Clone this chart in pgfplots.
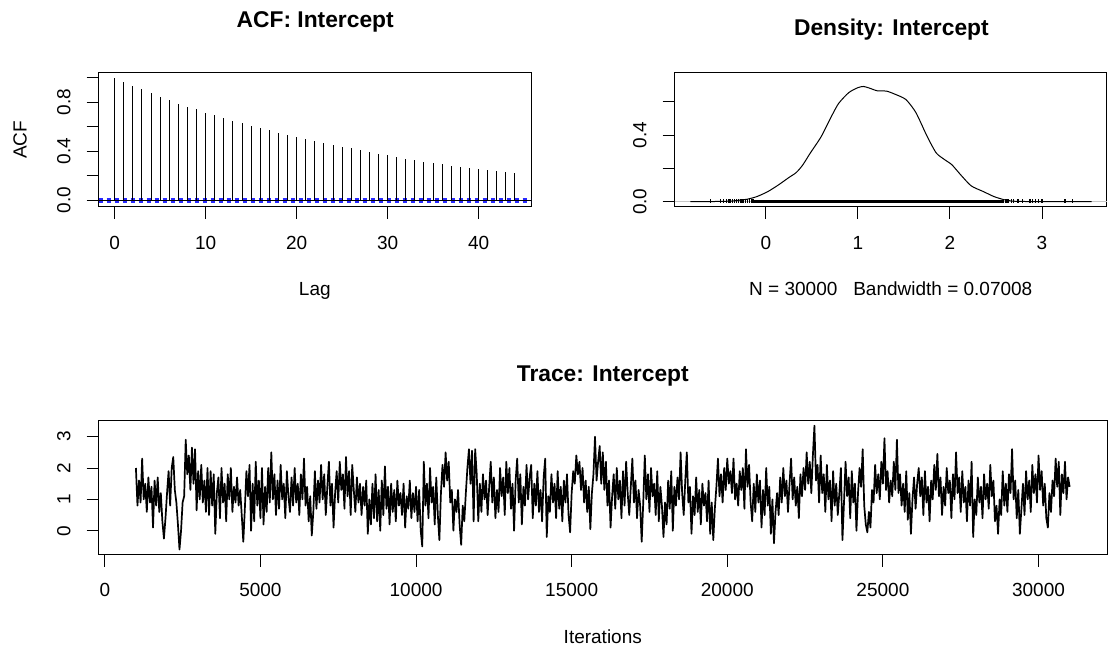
\documentclass[border=0pt]{standalone}
\usepackage{pgfplots}
\pgfplotsset{compat=1.18}
\usepackage{fontspec}
\setmainfont{Liberation Sans}
\definecolor{acfblue}{RGB}{40,40,255}
\newcommand{\lbl}{\fontsize{9.5}{11}\selectfont}
\newcommand{\ttl}{\fontsize{11.4}{13}\selectfont\bfseries}
\pgfplotsset{
  rbase/.style={
    scale only axis,
    anchor=south west,
    enlargelimits=false,
    axis line style={black, line width=0.5pt},
    tick align=outside,
    major tick length=6pt,
    tick style={black, line width=0.5pt},
    xtick pos=left, ytick pos=left,
    scaled x ticks=false, scaled y ticks=false,
    tick label style={font=\lbl},
    xticklabel style={anchor=base, yshift=-15.2pt},
    yticklabel style={xshift=-8.1pt, rotate=90, anchor=base},
    label style={font=\lbl},
    xlabel style={at={(axis description cs:0.5,0)}, anchor=base, yshift=-44.3pt},
    clip=true,
  }
}
\begin{document}
\begin{tikzpicture}
\useasboundingbox (0,0) rectangle (555pt,325pt);
% ---------------- ACF ----------------
\begin{axis}[rbase,
  at={(49.3pt,221.7pt)}, width=216.2pt, height=66.9pt,
  xmin=-1.76, xmax=45.76, ymin=-0.0517, ymax=1.0405,
  xtick={0,10,20,30,40}, xticklabels={0,10,20,30,40},
  ytick={0,0.2,0.4,0.6,0.8,1}, yticklabels={0.0,,0.4,,0.8,},
  xlabel={Lag}, ylabel={ACF},
  ylabel style={at={(axis description cs:-0.1665,0.5)}, anchor=base, rotate=0},
]
\addplot[black, line width=0.5pt] coordinates {(-1.76,0) (45.76,0)};
\addplot[acfblue, line width=0.9pt, dash pattern=on 2pt off 2pt] coordinates {(-1.76,0.0113) (45.76,0.0113)};
\addplot[acfblue, line width=0.9pt, dash pattern=on 2pt off 2pt] coordinates {(-1.76,-0.0113) (45.76,-0.0113)};
\addplot[ycomb, black, line width=0.5pt, mark=none] coordinates {
(0,1.000) (1,0.969) (2,0.936) (3,0.906) (4,0.873) (5,0.846) (6,0.819) (7,0.789) (8,0.765) (9,0.743)
(10,0.716) (11,0.694) (12,0.669) (13,0.648) (14,0.629) (15,0.607) (16,0.588) (17,0.571) (18,0.552) (19,0.533)
(20,0.517) (21,0.501) (22,0.484) (23,0.468) (24,0.452) (25,0.438) (26,0.424) (27,0.411) (28,0.395) (29,0.381)
(30,0.367) (31,0.354) (32,0.340) (33,0.327) (34,0.313) (35,0.305) (36,0.294) (37,0.283) (38,0.272) (39,0.264)
(40,0.256) (41,0.245) (42,0.237) (43,0.229) (44,0.220)};
\end{axis}
% ---------------- Density ----------------
\begin{axis}[rbase,
  at={(337.3pt,221.7pt)}, width=216.2pt, height=66.9pt,
  xmin=-0.992, xmax=3.706, ymin=-0.0298, ymax=0.774,
  xtick={0,1,2,3}, xticklabels={0,1,2,3},
  ytick={0,0.2,0.4,0.6}, yticklabels={0.0,,0.4,},
  xlabel={N = 30000~~~Bandwidth = 0.07008},
]
\addplot[gray!45, line width=0.4pt] coordinates {(-0.992,0) (3.706,0)};
\addplot[black, line width=0.5pt, smooth, tension=0.4] coordinates {
(-0.82,0) (-0.6,0.0005) (-0.45,0.002) (-0.365,0.004) (-0.21,0.014) (-0.1,0.03) (0.02,0.06) (0.135,0.10)
(0.25,0.145) (0.33,0.175) (0.40,0.22) (0.48,0.29) (0.60,0.39) (0.71,0.51) (0.79,0.59) (0.90,0.655)
(1.0,0.685) (1.06,0.692) (1.12,0.683) (1.21,0.666) (1.31,0.664) (1.40,0.646) (1.52,0.614) (1.63,0.535)
(1.75,0.394) (1.85,0.293) (1.94,0.253) (2.02,0.222) (2.115,0.162) (2.23,0.095) (2.365,0.06) (2.48,0.03)
(2.60,0.01) (2.71,0.002) (2.9,0.0005) (3.2,0.0002) (3.54,0)};
\addplot[black, line width=1.8pt] coordinates {(-0.13,0.002) (2.59,0.002)};
\addplot[black, only marks, mark=|, mark size=0.95pt, mark options={line width=0.6pt}] coordinates {
(-0.60,0.002) (-0.49,0.002) (-0.46,0.002) (-0.43,0.002) (-0.41,0.002) (-0.39,0.002) (-0.36,0.002)
(-0.34,0.002) (-0.32,0.002) (-0.30,0.002) (-0.28,0.002) (-0.26,0.002) (-0.24,0.002) (-0.22,0.002)
(-0.20,0.002) (-0.18,0.002) (-0.16,0.002) (-0.14,0.002)
(2.60,0.002) (2.62,0.002) (2.64,0.002) (2.67,0.002) (2.69,0.002) (2.74,0.002) (2.79,0.002)
(2.87,0.002) (2.90,0.002) (2.93,0.002) (2.96,0.002) (3.00,0.002) (3.25,0.002) (3.33,0.002)};
\end{axis}
% ---------------- Trace ----------------
\begin{axis}[rbase,
  at={(49.3pt,47.75pt)}, width=504.2pt, height=66.9pt,
  xmin=-199, xmax=32200, ymin=-0.758, ymax=3.508,
  xtick={0,5000,10000,15000,20000,25000,30000},
  xticklabels={0,5000,10000,15000,20000,25000,30000},
  ytick={0,1,2,3}, yticklabels={0,1,2,3},
  xlabel={Iterations},
]
\addplot[black, line width=0.85pt, line join=round] coordinates {
(1000,2.0) (1050,0.8) (1100,1.6) (1150,0.9) (1200,2.3) (1250,1.0) (1300,1.5) (1350,0.6) (1400,1.7) (1450,0.9)
(1500,1.4) (1550,0.1) (1600,1.6) (1650,0.8) (1700,1.7) (1750,0.6) (1800,1.2) (1850,0.3) (1900,-0.25) (1950,0.4)
(2000,1.2) (2050,1.9) (2100,0.8) (2150,2.0) (2200,2.35) (2250,1.3) (2300,0.9) (2350,0.2) (2400,-0.6) (2450,0.0)
(2500,0.9) (2550,1.1) (2600,2.9) (2650,1.8) (2700,2.4) (2750,1.3) (2800,2.65) (2850,1.5) (2900,2.6) (2950,0.65)
(3000,1.9) (3050,1.0) (3100,2.1) (3150,0.9) (3200,1.6) (3250,0.6) (3300,2.0) (3350,0.5) (3400,1.9) (3450,0.8)
(3500,1.8) (3550,-0.1) (3600,1.2) (3650,1.7) (3700,0.4) (3750,2.0) (3800,0.9) (3850,1.5) (3900,0.3) (3950,1.8)
(4000,1.0) (4050,2.0) (4100,0.6) (4150,1.4) (4200,0.9) (4250,1.7) (4300,0.8) (4350,1.3) (4400,0.5) (4450,-0.35)
(4500,0.7) (4550,1.9) (4600,1.1) (4650,2.1) (4700,0.0) (4750,1.5) (4800,0.3) (4850,2.2) (4900,0.8) (4950,1.6)
(5000,0.4) (5050,2.0) (5100,0.2) (5150,1.4) (5200,0.6) (5250,2.0) (5300,0.9) (5350,2.5) (5400,1.0) (5450,1.8)
(5500,0.5) (5550,1.6) (5600,0.7) (5650,2.1) (5700,1.0) (5750,1.5) (5800,0.4) (5850,1.9) (5900,1.1) (5950,0.6)
(6000,1.7) (6050,0.8) (6100,2.0) (6150,0.9) (6200,1.5) (6250,0.5) (6300,1.8) (6350,1.0) (6400,2.3) (6450,0.8)
(6500,1.4) (6550,0.3) (6600,1.1) (6650,-0.15) (6700,0.6) (6750,1.9) (6800,0.7) (6850,1.6) (6900,0.9) (6950,2.1)
(7000,1.0) (7050,1.8) (7100,0.5) (7150,1.4) (7200,2.2) (7250,0.8) (7300,1.5) (7350,0.1) (7400,1.2) (7450,1.9)
(7500,0.9) (7550,2.2) (7600,1.3) (7650,1.8) (7700,0.7) (7750,2.35) (7800,1.1) (7850,1.9) (7900,0.5) (7950,2.1)
(8000,1.3) (8050,0.6) (8100,1.7) (8150,0.9) (8200,1.5) (8250,0.5) (8300,1.4) (8350,0.8) (8400,1.6) (8450,-0.1)
(8500,1.0) (8550,0.2) (8600,1.5) (8650,0.4) (8700,1.8) (8750,0.3) (8800,1.3) (8850,0.0) (8900,1.6) (8950,0.5)
(9000,2.05) (9050,0.7) (9100,1.4) (9150,0.2) (9200,1.5) (9250,0.6) (9300,1.3) (9350,0.3) (9400,1.6) (9450,0.8)
(9500,1.2) (9550,0.5) (9600,1.5) (9650,0.1) (9700,1.1) (9750,0.7) (9800,1.6) (9850,0.4) (9900,1.2) (9950,0.6)
(10000,1.4) (10050,0.3) (10100,1.3) (10150,0.0) (10200,-0.5) (10250,2.2) (10300,0.8) (10350,1.5) (10400,0.4) (10450,2.0)
(10500,0.9) (10550,1.4) (10600,0.2) (10650,1.7) (10700,0.5) (10750,-0.3) (10800,1.2) (10850,2.1) (10900,1.4) (10950,2.5)
(11000,1.6) (11050,2.2) (11100,0.9) (11150,1.3) (11200,0.0) (11250,1.0) (11300,0.6) (11350,1.3) (11400,0.2) (11450,-0.45)
(11500,0.8) (11550,0.3) (11600,1.2) (11650,2.0) (11700,2.6) (11750,1.5) (11800,2.55) (11850,0.3) (11900,2.6) (11950,1.8)
(12000,0.3) (12050,1.5) (12100,0.6) (12150,1.8) (12200,1.0) (12250,1.6) (12300,0.5) (12350,1.4) (12400,2.2) (12450,0.9)
(12500,1.7) (12550,0.4) (12600,1.3) (12650,0.6) (12700,2.0) (12750,1.1) (12800,1.7) (12850,0.5) (12900,2.2) (12950,1.2)
(13000,2.0) (13050,0.7) (13100,1.5) (13150,0.0) (13200,1.6) (13250,2.3) (13300,0.9) (13350,1.8) (13400,0.2) (13450,1.4)
(13500,0.8) (13550,2.1) (13600,1.0) (13650,1.7) (13700,2.1) (13750,0.4) (13800,1.5) (13850,0.8) (13900,1.9) (13950,0.6)
(14000,1.3) (14050,0.3) (14100,1.7) (14150,2.3) (14200,-0.2) (14250,1.1) (14300,0.6) (14350,1.8) (14400,0.9) (14450,1.5)
(14500,0.4) (14550,1.9) (14600,0.7) (14650,1.4) (14700,0.3) (14750,1.6) (14800,0.9) (14850,1.8) (14900,0.5) (14950,-0.05)
(15000,1.2) (15050,1.9) (15100,1.5) (15150,2.4) (15200,1.8) (15250,2.2) (15300,1.3) (15350,2.0) (15400,0.9) (15450,1.6)
(15500,0.6) (15550,1.4) (15600,0.05) (15650,1.2) (15700,1.8) (15750,3.0) (15800,1.6) (15850,2.2) (15900,2.7) (15950,1.5)
(16000,2.5) (16050,1.3) (16100,2.2) (16150,0.8) (16200,1.6) (16250,0.1) (16300,1.1) (16350,1.8) (16400,0.7) (16450,2.0)
(16500,1.0) (16550,1.6) (16600,0.4) (16650,1.9) (16700,0.8) (16750,2.2) (16800,1.2) (16850,0.5) (16900,1.4) (16950,2.3)
(17000,0.9) (17050,1.6) (17100,0.4) (17150,1.3) (17200,0.8) (17250,-0.35) (17300,0.9) (17350,2.4) (17400,1.0) (17450,1.8)
(17500,0.6) (17550,2.0) (17600,1.1) (17650,1.5) (17700,0.5) (17750,1.9) (17800,0.3) (17850,1.4) (17900,0.8) (17950,-0.2)
(18000,0.9) (18050,0.2) (18100,1.6) (18150,0.7) (18200,1.9) (18250,0.0) (18300,1.4) (18350,0.8) (18400,1.7) (18450,1.0)
(18500,2.5) (18550,1.2) (18600,0.5) (18650,1.6) (18700,2.5) (18750,0.9) (18800,1.4) (18850,-0.1) (18900,1.1) (18950,0.5)
(19000,1.7) (19050,0.6) (19100,1.3) (19150,0.2) (19200,1.5) (19250,0.8) (19300,1.2) (19350,0.3) (19400,1.6) (19450,-0.1)
(19500,0.9) (19550,-0.3) (19600,0.7) (19650,1.4) (19700,2.3) (19750,1.1) (19800,1.8) (19850,0.9) (19900,2.0) (19950,1.3)
(20000,2.3) (20050,1.5) (20100,1.9) (20150,1.2) (20200,2.3) (20250,1.0) (20300,1.5) (20350,0.8) (20400,1.9) (20450,1.3)
(20500,2.0) (20550,0.7) (20600,2.6) (20650,1.4) (20700,2.1) (20750,0.9) (20800,0.3) (20850,1.5) (20900,0.6) (20950,1.8)
(21000,0.9) (21050,1.6) (21100,0.1) (21150,1.3) (21200,0.5) (21250,2.0) (21300,0.8) (21350,1.4) (21400,-0.1) (21450,1.0)
(21500,-0.4) (21550,0.6) (21600,1.2) (21650,0.5) (21700,1.7) (21750,0.9) (21800,2.0) (21850,1.1) (21900,1.6) (21950,0.6)
(22000,1.5) (22050,2.3) (22100,1.0) (22150,1.7) (22200,0.8) (22250,1.4) (22300,0.4) (22350,1.8) (22400,1.1) (22450,2.0)
(22500,1.3) (22550,2.5) (22600,1.5) (22650,2.2) (22700,1.2) (22750,2.4) (22800,3.35) (22850,1.6) (22900,2.1) (22950,0.9)
(23000,2.4) (23050,1.2) (23100,1.8) (23150,0.6) (23200,2.1) (23250,1.0) (23300,1.6) (23350,0.3) (23400,1.9) (23450,0.8)
(23500,1.5) (23550,0.5) (23600,1.2) (23650,2.0) (23700,-0.3) (23750,0.9) (23800,2.2) (23850,1.1) (23900,1.7) (23950,0.4)
(24000,1.9) (24050,0.9) (24100,1.5) (24150,0.0) (24200,1.2) (24250,2.0) (24300,1.4) (24350,2.6) (24400,0.8) (24450,0.2)
(24500,-0.05) (24550,0.6) (24600,0.1) (24650,1.3) (24700,0.9) (24750,2.1) (24800,1.2) (24850,1.8) (24900,1.0) (24950,2.2)
(25000,1.5) (25050,2.95) (25100,1.3) (25150,1.9) (25200,0.9) (25250,1.6) (25300,1.1) (25350,2.2) (25400,1.3) (25450,2.9)
(25500,1.2) (25550,1.8) (25600,0.8) (25650,1.5) (25700,0.6) (25750,1.9) (25800,0.35) (25850,1.2) (25900,-0.1) (25950,1.0)
(26000,1.7) (26050,0.7) (26100,1.5) (26150,2.0) (26200,1.1) (26250,1.7) (26300,0.5) (26350,1.9) (26400,0.9) (26450,1.4)
(26500,0.3) (26550,1.6) (26600,1.0) (26650,2.1) (26700,1.3) (26750,2.45) (26800,1.1) (26850,1.7) (26900,0.5) (26950,1.4)
(27000,0.8) (27050,2.0) (27100,1.2) (27150,1.6) (27200,0.4) (27250,1.8) (27300,1.0) (27350,2.5) (27400,1.2) (27450,1.7)
(27500,0.6) (27550,1.9) (27600,0.9) (27650,1.4) (27700,0.3) (27750,1.6) (27800,0.8) (27850,2.2) (27900,-0.2) (27950,1.0)
(28000,0.5) (28050,1.7) (28100,0.9) (28150,1.4) (28200,0.4) (28250,1.8) (28300,1.0) (28350,1.5) (28400,0.7) (28450,2.1)
(28500,1.1) (28550,1.6) (28600,0.3) (28650,0.8) (28700,-0.1) (28750,1.0) (28800,0.5) (28850,1.9) (28900,0.8) (28950,1.5)
(29000,0.6) (29050,1.8) (29100,1.2) (29150,2.6) (29200,1.0) (29250,1.6) (29300,0.4) (29350,1.3) (29400,-0.1) (29450,0.7)
(29500,1.5) (29550,0.5) (29600,1.9) (29650,1.0) (29700,1.6) (29750,0.6) (29800,2.1) (29850,1.2) (29900,1.8) (29950,0.9)
(30000,2.4) (30050,1.3) (30100,1.9) (30150,0.8) (30200,1.5) (30250,0.4) (30300,0.1) (30350,1.2) (30400,0.6) (30450,1.6)
(30500,1.1) (30550,2.3) (30600,1.4) (30650,2.2) (30700,0.5) (30750,1.8) (30800,1.2) (30850,2.2) (30900,1.0) (30950,1.7)
(31000,1.4)};
\end{axis}
% ---------------- Titles ----------------
\node[font=\ttl, anchor=base] at (157.6pt,311.2pt) {ACF: Intercept};
\node[font=\ttl, anchor=base] at (445.7pt,307.3pt) {Density: Intercept};
\node[font=\ttl, anchor=base] at (301.4pt,134.2pt) {Trace: Intercept};
\end{tikzpicture}
\end{document}
